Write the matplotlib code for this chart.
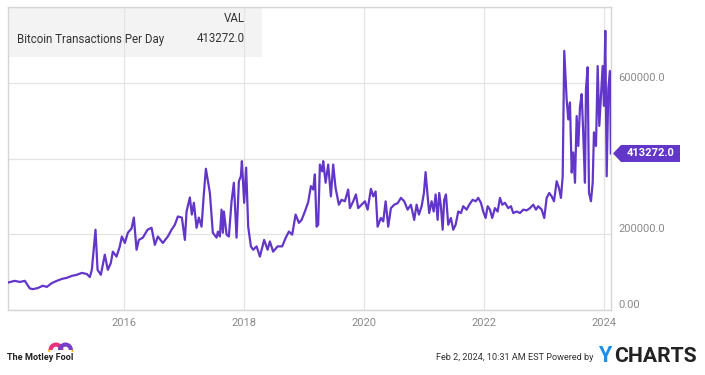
import matplotlib
matplotlib.use("Agg")
import matplotlib.pyplot as plt
from matplotlib.patches import Polygon, Rectangle, Wedge, Circle
from matplotlib.transforms import IdentityTransform, blended_transform_factory

plt.rcParams['font.family'] = ['Roboto', 'DejaVu Sans']

# ---- data (decimal year, transactions per day) ----
years = [
    2014.083, 2014.183, 2014.267, 2014.35, 2014.395, 2014.433, 2014.483, 2014.567, 2014.65, 2014.717,
    2014.8, 2014.883, 2014.967, 2015.05, 2015.133, 2015.217, 2015.3, 2015.383, 2015.433, 2015.467,
    2015.528, 2015.562, 2015.617, 2015.683, 2015.733, 2015.783, 2015.817, 2015.878, 2015.933, 2015.967,
    2016.017, 2016.067, 2016.128, 2016.167, 2016.212, 2016.25, 2016.317, 2016.395, 2016.462, 2016.517,
    2016.567, 2016.65, 2016.733, 2016.795, 2016.85, 2016.9, 2016.967, 2017.017, 2017.045, 2017.1,
    2017.133, 2017.167, 2017.212, 2017.25, 2017.295, 2017.33, 2017.367, 2017.433, 2017.483, 2017.545,
    2017.567, 2017.6, 2017.628, 2017.65, 2017.667, 2017.712, 2017.75, 2017.795, 2017.833, 2017.878,
    2017.917, 2017.95, 2017.967, 2018.005, 2018.038, 2018.072, 2018.117, 2018.155, 2018.212, 2018.267,
    2018.338, 2018.395, 2018.433, 2018.488, 2018.562, 2018.638, 2018.695, 2018.75, 2018.805, 2018.862,
    2018.917, 2018.962, 2019.017, 2019.072, 2019.117, 2019.155, 2019.183, 2019.212, 2019.238, 2019.267,
    2019.305, 2019.322, 2019.362, 2019.405, 2019.45, 2019.488, 2019.528, 2019.583, 2019.628, 2019.683,
    2019.738, 2019.767, 2019.822, 2019.867, 2019.905, 2019.962, 2020.017, 2020.062, 2020.117, 2020.155,
    2020.195, 2020.228, 2020.283, 2020.322, 2020.362, 2020.405, 2020.45, 2020.505, 2020.562, 2020.617,
    2020.672, 2020.728, 2020.783, 2020.838, 2020.878, 2020.917, 2020.962, 2021.0, 2021.028, 2021.062,
    2021.088, 2021.128, 2021.162, 2021.195, 2021.228, 2021.255, 2021.283, 2021.312, 2021.338, 2021.367,
    2021.405, 2021.45, 2021.488, 2021.528, 2021.572, 2021.617, 2021.655, 2021.712, 2021.755, 2021.812,
    2021.862, 2021.905, 2021.95, 2021.988, 2022.028, 2022.062, 2022.1, 2022.138, 2022.183, 2022.228,
    2022.267, 2022.305, 2022.35, 2022.405, 2022.45, 2022.488, 2022.545, 2022.6, 2022.655, 2022.712,
    2022.767, 2022.822, 2022.867, 2022.905, 2022.962, 2023.005, 2023.045, 2023.088, 2023.128, 2023.167,
    2023.212, 2023.25, 2023.283, 2023.312, 2023.338, 2023.378, 2023.405, 2023.433, 2023.462, 2023.488,
    2023.517, 2023.545, 2023.572, 2023.6, 2023.628, 2023.655, 2023.683, 2023.7, 2023.728, 2023.75,
    2023.783, 2023.812, 2023.833, 2023.867, 2023.895, 2023.922, 2023.95, 2023.978, 2024.0, 2024.022,
    2024.045, 2024.072, 2024.1, 2024.115,
]
values = [
    73000, 77000, 74000, 77000, 66000, 57000, 55000, 58000, 64000, 61000,
    71000, 77000, 82000, 85000, 90000, 93000, 98000, 95000, 87000, 106000,
    212000, 106000, 93000, 146000, 106000, 124000, 154000, 141000, 168000, 194000,
    177000, 204000, 215000, 244000, 159000, 185000, 191000, 212000, 217000, 172000,
    194000, 177000, 194000, 212000, 225000, 247000, 244000, 185000, 260000, 297000,
    252000, 283000, 217000, 244000, 220000, 300000, 373000, 310000, 204000, 191000,
    207000, 194000, 265000, 204000, 260000, 199000, 194000, 287000, 336000, 191000,
    340000, 353000, 393000, 283000, 376000, 220000, 168000, 159000, 168000, 141000,
    185000, 159000, 181000, 154000, 168000, 168000, 190000, 207000, 199000, 252000,
    230000, 238000, 260000, 285000, 327000, 318000, 358000, 220000, 225000, 384000,
    366000, 393000, 336000, 384000, 300000, 384000, 322000, 278000, 291000, 287000,
    318000, 269000, 287000, 305000, 269000, 278000, 287000, 265000, 320000, 300000,
    313000, 220000, 243000, 234000, 287000, 220000, 269000, 278000, 282000, 296000,
    287000, 265000, 278000, 238000, 278000, 252000, 274000, 309000, 364000, 300000,
    256000, 287000, 260000, 305000, 238000, 309000, 274000, 212000, 291000, 305000,
    225000, 243000, 212000, 225000, 260000, 256000, 274000, 265000, 278000, 291000,
    287000, 296000, 283000, 260000, 243000, 274000, 265000, 243000, 269000, 260000,
    296000, 278000, 283000, 269000, 274000, 256000, 260000, 256000, 265000, 263000,
    269000, 278000, 265000, 274000, 265000, 243000, 296000, 309000, 300000, 287000,
    340000, 322000, 296000, 353000, 684000, 556000, 503000, 548000, 363000, 416000,
    336000, 512000, 433000, 535000, 570000, 464000, 336000, 583000, 641000, 310000,
    287000, 336000, 469000, 433000, 644000, 486000, 565000, 644000, 539000, 737000,
    353000, 583000, 631000, 413272.0,
]
series_name = "Bitcoin Transactions Per Day"
last_value = values[-1]
x_ticks = [2016, 2018, 2020, 2022, 2024]
y_ticks = [0, 200000, 400000, 600000, 800000]
y_tick_labels = ["0.00", "200000.0", "", "600000.0", ""]

W, H = 705, 375
fig = plt.figure(figsize=(W / 100, H / 100), dpi=100)
fig.patch.set_facecolor("white")

def fx(px):
    return px / W

def fy(py):
    return 1 - py / H

ax_l, ax_r, ax_t, ax_b = 8, 611, 7, 310
ax = fig.add_axes([fx(ax_l), fy(ax_b), fx(ax_r - ax_l), (ax_b - ax_t) / H])

line_color = "#6236c9"
ax.plot(years, values, color=line_color, lw=1.6, zorder=3, solid_joinstyle="round")

ax.set_xlim(2014.07, 2024.117)
ax.set_ylim(0, 800000)
ax.set_xticks(x_ticks)
ax.set_xticklabels([str(t) for t in x_ticks])
ax.set_yticks(y_ticks)
ax.set_yticklabels(y_tick_labels)
ax.yaxis.tick_right()
ax.tick_params(axis="both", length=0, colors="#8a8a8a", labelsize=8)
ax.tick_params(axis="x", pad=6)
ax.tick_params(axis="y", pad=5)
for lbl in ax.get_yticklabels():
    lbl.set_va("bottom")
ax.grid(True, color="#e4e4e4", lw=0.9)
ax.set_axisbelow(True)
for s in ax.spines.values():
    s.set_color("#d6d6d6")
    s.set_linewidth(1.0)

# legend box (top-left)
box = Rectangle((0, 1 - 50 / 303), (262 - 8) / 603, 50 / 303, transform=ax.transAxes,
                facecolor="#f3f3f3", edgecolor="none", zorder=0.2)
ax.add_patch(box)
fig.text(fx(245), fy(18), "VAL", ha="right", va="center", fontsize=8.3, color="#333333")
fig.text(fx(17), fy(39), series_name, ha="left", va="center", fontsize=8.3, color="#333333")
fig.text(fx(245), fy(39), f"{last_value:.1f}", ha="right", va="center", fontsize=8.3, color="#333333")

# last value marker on the right axis
tr = blended_transform_factory(ax.transAxes, ax.transData)
ax_x, ax_y = tr.transform((1.0, last_value))
tip_x = ax_x + 2
hh = 8.5
pts = [(tip_x, ax_y), (tip_x + 8, ax_y + hh), (tip_x + 67, ax_y + hh),
       (tip_x + 67, ax_y - hh), (tip_x + 8, ax_y - hh)]
marker = Polygon(pts, closed=True, transform=IdentityTransform(), facecolor=line_color,
                 edgecolor="none", zorder=10)
fig.patches.append(marker)
mx, my = fig.transFigure.inverted().transform((tip_x + 38, ax_y))
fig.text(mx, my, f"{last_value:.1f}", ha="center", va="center", fontsize=8,
         fontweight="bold", color="white", zorder=11)

# footer: Motley Fool logo
fig.text(fx(7), fy(357), "The Motley Fool", ha="left", va="center", fontsize=6.6,
         fontweight="bold", color="#222222")
pink, purple, yellow = "#e8327c", "#7a3fc6", "#f5b800"
hat_ax = fig.add_axes([fx(48), fy(352), fx(26), 15 / H])
hat_ax.set_xlim(0, 26)
hat_ax.set_ylim(0, 15)
hat_ax.axis("off")
hat_ax.add_patch(Wedge((8, 2), 7.5, 0, 180, width=4.2, facecolor=pink, edgecolor="none"))
hat_ax.add_patch(Wedge((17.5, 2), 7.5, 0, 180, width=4.2, facecolor=purple, edgecolor="none"))
for cx in (1.2, 24.5):
    hat_ax.add_patch(Circle((cx, 1.2), 1.1, facecolor=yellow, edgecolor="none"))

# footer: timestamp and YCharts logo
fig.text(fx(593), fy(357), "Feb 2, 2024, 10:31 AM EST Powered by", ha="right", va="center",
         fontsize=6.6, color="#333333")
fig.text(fx(598), fy(356), "Y", ha="left", va="center", fontsize=15.5, fontweight="bold",
         color="#1e8fe8")
fig.text(fx(614), fy(356), "CHARTS", ha="left", va="center",
         fontsize=15.2, fontweight="bold", color="#222222")

fig.savefig("out.png", dpi=100, facecolor="white")
